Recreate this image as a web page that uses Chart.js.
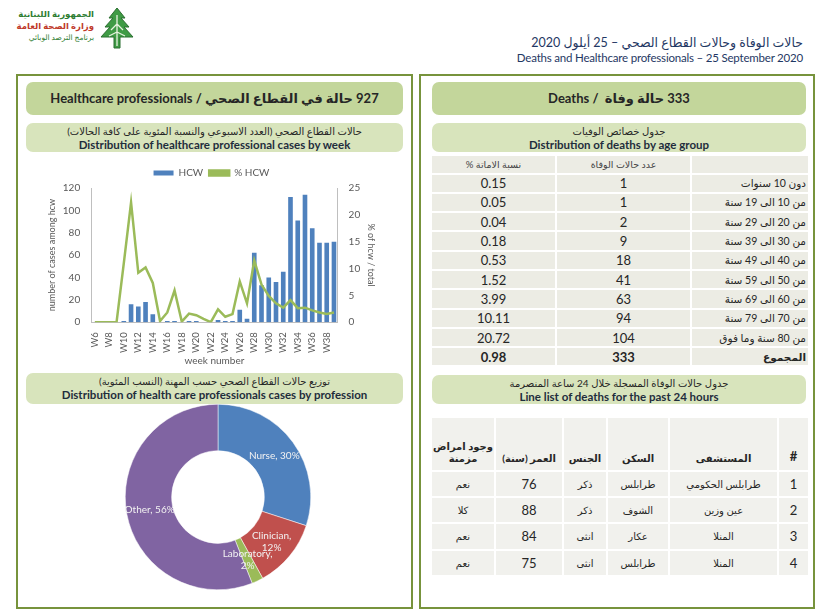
<!DOCTYPE html>
<html>
<head>
<meta charset="utf-8">
<script src="https://cdn.jsdelivr.net/npm/chart.js"></script>
<style>
  body { margin: 0; width: 820px; height: 615px; background: #fff; position: relative; overflow: hidden;
         font-family: Lato, "DejaVu Sans", sans-serif; color: #262626; }
  .abs { position: absolute; }
  .panel { position: absolute; box-sizing: border-box; border: 2px solid #77933c; background: #fff; }
  .box { position: absolute; box-sizing: border-box; border-radius: 7px; text-align: center; }
  .title { background: #c3d69b; font-size: 13px; font-weight: 700; line-height: 33px; height: 33px; }
  .sub { background: #d8e4bc; font-size: 11px; line-height: 13px; padding-top: 2px; }
  .sub .en { font-weight: 700; font-size: 11.5px; color: #1f2d3d; }
  .sub .ar { font-size: 10px; }
  table { border-collapse: collapse; table-layout: fixed; }
  #ageTable td { background: #ecece4; border: 2px solid #fff; height: 17.3px; font-size: 13px; text-align: center; padding: 0; }
  #ageTable td.lbl { text-align: right; font-size: 10.5px; padding-right: 2px; }
  #ageTable tr.hd td { font-size: 9.5px; color: #444; height: 16.5px; }
  #ageTable tr.tot td { font-weight: 700; }
  #lineTable td { background: #f1f1ed; border: 2px solid #fff; height: 24.2px; font-size: 13px; text-align: center; padding: 0; }
  #lineTable td.ar { font-size: 10px; }
  #lineTable tr.hd td { height: 46px; vertical-align: bottom; padding-bottom: 6px; font-weight: 700; font-size: 10px; }
</style>
</head>
<body>

<!-- logo -->
<div class="abs" style="left:8px; top:8px; width:86px; text-align:right; font-size:8.5px; line-height:12px; font-weight:700;">
  <div style="color:#2e7d32;">الجمهورية اللبنانية</div>
  <div style="color:#c0392b;">وزارة الصحة العامة</div>
  <div style="color:#2e7d32; font-weight:400; font-size:7.5px;">برنامج الترصد الوبائي</div>
</div>
<svg class="abs" style="left:98px; top:6px;" width="38" height="46" viewBox="0 0 38 46">
  <path d="M19 2 L27 12 L23 12 L31 21 L26 21 L35 31 L22 31 L22 42 L16 42 L16 31 L3 31 L12 21 L7 21 L15 12 L11 12 Z"
        fill="#3f9b45" stroke="#2b6e30" stroke-width="1"/>
  <path d="M19 9 L19 40 M19 18 L13 24 M19 18 L25 24 M19 26 L11 30 M19 26 L27 30" stroke="#e8f3e0" stroke-width="1.3" fill="none"/>
</svg>

<!-- page heading -->
<div class="abs" style="right:17px; top:35px; text-align:right; color:#1f3864; line-height:15px;">
  <div dir="rtl" style="font-size:12.5px;">حالات الوفاة وحالات القطاع الصحي – 25 أيلول 2020</div>
  <div style="font-size:11.5px; letter-spacing:-0.2px;">Deaths and Healthcare professionals – 25 September 2020</div>
</div>

<!-- left panel -->
<div class="panel" style="left:16px; top:74px; width:397px; height:535px;"></div>
<div class="box title" style="left:26px; top:82px; width:377px;" dir="rtl">927 حالة في القطاع الصحي / Healthcare professionals</div>
<div class="box sub" style="left:26px; top:123px; width:377px; height:29px;">
  <div class="ar" dir="rtl">حالات القطاع الصحي (العدد الاسبوعي والنسبة المئوية على كافة الحالات)</div>
  <div class="en">Distribution of healthcare professional cases by week</div>
</div>
<div class="abs" style="left:28px; top:160px; width:352px; height:207px;"><canvas id="weekChart"></canvas></div>
<div class="box sub" style="left:26px; top:373px; width:377px; height:31px;">
  <div class="ar" dir="rtl">توزيع حالات القطاع الصحي حسب المهنة (النسب المئوية)</div>
  <div class="en">Distribution of health care professionals cases by profession</div>
</div>
<div class="abs" style="left:118px; top:397px; width:200px; height:200px;"><canvas id="profChart"></canvas></div>

<!-- right panel -->
<div class="panel" style="left:419px; top:74px; width:396px; height:535px;"></div>
<div class="box title" style="left:432px; top:82px; width:374px;" dir="rtl">333 حالة وفاة&nbsp; / Deaths</div>
<div class="box sub" style="left:432px; top:123px; width:374px; height:29px;">
  <div class="ar" dir="rtl">جدول خصائص الوفيات</div>
  <div class="en">Distribution of deaths by age group</div>
</div>
<table id="ageTable" class="abs" style="left:430px; top:154px; width:378px;" dir="rtl">
  <colgroup><col style="width:118px"><col style="width:135px"><col style="width:125px"></colgroup>
  <tbody></tbody>
</table>
<div class="box sub" style="left:432px; top:375px; width:374px; height:29px;">
  <div class="ar" dir="rtl">جدول حالات الوفاة المسجلة خلال 24 ساعة المنصرمة</div>
  <div class="en">Line list of deaths for the past 24 hours</div>
</div>
<table id="lineTable" class="abs" style="left:430px; top:416px; width:378px;" dir="rtl">
  <colgroup><col style="width:31px"><col style="width:109px"><col style="width:62px"><col style="width:44px"><col style="width:68px"><col style="width:64px"></colgroup>
  <tbody></tbody>
</table>

<script>
const FONT = 'Lato, "DejaVu Sans", sans-serif';
const AXISCOLOR = "#595959";
const BARCOLOR = "#4f81bd";
const LINECOLOR = "#9bbb59";

// weekly healthcare worker cases
const weeks = ["W6", "W7", "W8", "W9", "W10", "W11", "W12", "W13", "W14", "W15", "W16", "W17",
    "W18", "W19", "W20", "W21", "W22", "W23", "W24", "W25", "W26", "W27", "W28", "W29",
    "W30", "W31", "W32", "W33", "W34", "W35", "W36", "W37", "W38", "W39"];
const hcwCases = [0, 0, 0, 0, 1, 16, 14, 18, 7, 0, 1, 1, 0, 1, 1, 0, 0, 2, 1, 1, 11, 3, 62, 33,
    40, 36, 45, 112, 91, 114, 84, 71, 71, 72];
const hcwPercent = [0, 0, 0, 0, 11, 22.3, 9.2, 10.2, 7.3, 0.2, 1.8, 5.9, 0.1, 1.6, 1.3, 0.6, 0, 2.4,
    1, 1.5, 7.6, 3.5, 11.5, 7, 4.9, 3.5, 2.7, 4.1, 2.6, 2.7, 2.2, 1.8, 1.5, 1.8];

// cases by profession
const professions = ["Nurse", "Clinician", "Laboratory", "Other"];
const professionShare = [30, 12, 2, 56];
const professionColors = ["#4f81bd", "#c0504d", "#9bbb59", "#8064a2"];

// deaths by age group
const ageGroups = ["دون 10 سنوات", "من 10 الى 19 سنة", "من 20 الى 29 سنة", "من 30 الى 39 سنة",
    "من 40 الى 49 سنة", "من 50 الى 59 سنة", "من 60 الى 69 سنة", "من 70 الى 79 سنة", "من 80 سنة وما فوق"];
const deathCounts = [1, 1, 2, 9, 18, 41, 63, 94, 104];
const fatalityRates = ["0.15", "0.05", "0.04", "0.18", "0.53", "1.52", "3.99", "10.11", "20.72"];
const deathTotal = 333;
const fatalityTotal = "0.98";

// line list of deaths, past 24h
const listNo = [1, 2, 3, 4];
const listHospital = ["طرابلس الحكومي", "عين وزين", "المنلا", "المنلا"];
const listResidence = ["طرابلس", "الشوف", "عكار", "طرابلس"];
const listGender = ["ذكر", "ذكر", "انثى", "انثى"];
const listAge = [76, 88, 84, 75];
const listChronic = ["نعم", "كلا", "نعم", "نعم"];

Chart.defaults.font.family = FONT;
Chart.defaults.color = AXISCOLOR;
Chart.defaults.animation = false;

function makeWeekChart() {
    const ctx = document.querySelector("#weekChart").getContext("2d");
    new Chart(ctx, {
        type: "bar",
        data: {
            labels: weeks,
            datasets: [{
                label: "HCW",
                data: hcwCases,
                backgroundColor: BARCOLOR,
                yAxisID: "y",
                barPercentage: 0.64,
                categoryPercentage: 1,
                order: 2
            }, {
                type: "line",
                label: "% HCW",
                data: hcwPercent,
                borderColor: LINECOLOR,
                backgroundColor: LINECOLOR,
                borderWidth: 2.5,
                pointRadius: 0,
                yAxisID: "y1",
                order: 1
            }]
        },
        options: {
            responsive: true,
            maintainAspectRatio: false,
            layout: { padding: { left: 17, right: 2, top: 2, bottom: 0 } },
            scales: {
                x: {
                    grid: { display: false },
                    border: { color: "#bfbfbf" },
                    ticks: {
                        autoSkip: false, maxRotation: 90, minRotation: 90,
                        font: { size: 9.5 }, padding: 2,
                        callback: (v, i) => i % 2 === 0 ? weeks[i] : ""
                    },
                    title: { display: true, text: "week number", font: { size: 10 }, padding: 0 }
                },
                y: {
                    min: 0, max: 120,
                    grid: { display: false },
                    border: { color: "#bfbfbf" },
                    ticks: { stepSize: 20, font: { size: 10 } },
                    title: { display: true, text: "number of cases among hcw", font: { size: 9 }, padding: 2 }
                },
                y1: {
                    position: "right",
                    min: 0, max: 25,
                    grid: { display: false },
                    border: { color: "#bfbfbf" },
                    ticks: { stepSize: 5, font: { size: 10 } },
                    title: { display: true, text: "% of hcw / total", font: { size: 9 }, padding: 2 }
                }
            },
            plugins: {
                legend: {
                    position: "top",
                    labels: {
                        boxWidth: 20, boxHeight: 5, font: { size: 10 }, padding: 6,
                        sort: (a, b) => a.datasetIndex - b.datasetIndex
                    }
                },
                tooltip: { enabled: false }
            }
        }
    });
}

// writes "Name, xx%" inside each slice of the doughnut
const sliceLabels = {
    id: "sliceLabels",
    afterDatasetsDraw(chart) {
        const c = chart.ctx;
        const arcs = chart.getDatasetMeta(0).data;
        c.save();
        c.fillStyle = "#f2f2f2";
        c.font = "10px " + FONT;
        c.textAlign = "center";
        c.textBaseline = "middle";
        arcs.forEach((arc, i) => {
            const p = arc.tooltipPosition();
            const name = professions[i];
            const pct = professionShare[i] + "%";
            if (name === "Nurse" || name === "Other") {
                c.fillText(name + ", " + pct, p.x, p.y);
            } else {
                c.fillText(name + ",", p.x, p.y - 6);
                c.fillText(pct, p.x, p.y + 6);
            }
        });
        c.restore();
    }
};

function makeProfessionChart() {
    const ctx = document.querySelector("#profChart").getContext("2d");
    new Chart(ctx, {
        type: "doughnut",
        data: {
            labels: professions,
            datasets: [{
                data: professionShare,
                backgroundColor: professionColors,
                borderColor: "#ffffff",
                borderWidth: 0.5
            }]
        },
        options: {
            responsive: true,
            maintainAspectRatio: false,
            cutout: "50%",
            layout: { padding: 7 },
            plugins: {
                legend: { display: false },
                tooltip: { enabled: false }
            }
        },
        plugins: [sliceLabels]
    });
}

function fillAgeTable() {
    const body = document.querySelector("#ageTable tbody");
    let html = "<tr class=\"hd\"><td></td><td>عدد حالات الوفاة</td><td>نسبة الاماتة %</td></tr>";
    ageGroups.forEach((g, i) => {
        html += "<tr><td class=\"lbl\">" + g + "</td><td>" + deathCounts[i] + "</td><td>" + fatalityRates[i] + "</td></tr>";
    });
    html += "<tr class=\"tot\"><td class=\"lbl\">المجموع</td><td>" + deathTotal + "</td><td>" + fatalityTotal + "</td></tr>";
    body.innerHTML = html;
}

function fillLineTable() {
    const body = document.querySelector("#lineTable tbody");
    let html = "<tr class=\"hd\"><td style=\"font-size:13px\">#</td><td>المستشفى</td><td>السكن</td><td>الجنس</td>" +
        "<td>العمر (سنة)</td><td>وجود امراض<br>مزمنة</td></tr>";
    listNo.forEach((n, i) => {
        html += "<tr><td>" + n + "</td><td class=\"ar\">" + listHospital[i] + "</td><td class=\"ar\">" + listResidence[i] +
            "</td><td class=\"ar\">" + listGender[i] + "</td><td>" + listAge[i] + "</td><td class=\"ar\">" + listChronic[i] + "</td></tr>";
    });
    body.innerHTML = html;
}

makeWeekChart();
makeProfessionChart();
fillAgeTable();
fillLineTable();
</script>
</body>
</html>
